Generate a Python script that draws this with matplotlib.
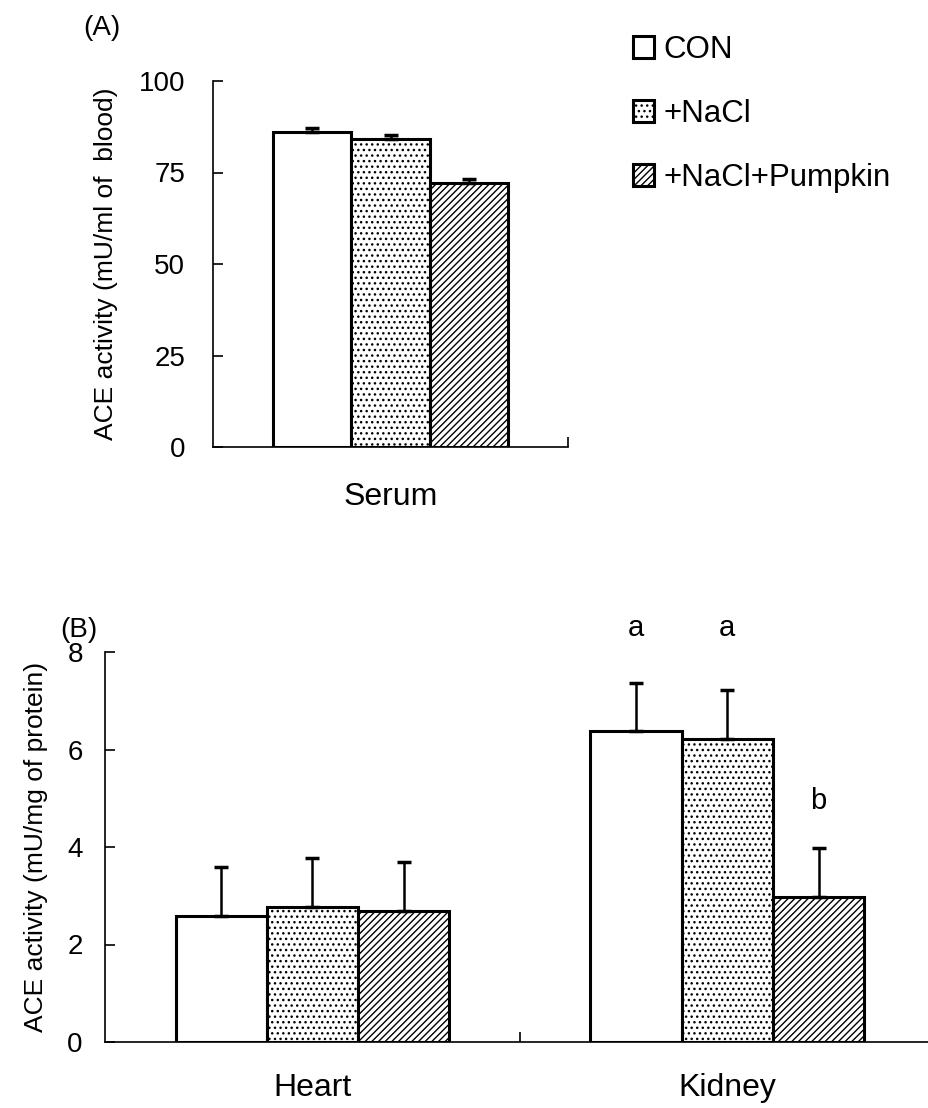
import matplotlib
matplotlib.use("Agg")
import matplotlib.pyplot as plt
import numpy as np

plt.rcParams['font.family'] = ['Liberation Sans', 'DejaVu Sans']
plt.rcParams['hatch.linewidth'] = 1.0

# data
groups = ['CON', '+NaCl', '+NaCl+Pumpkin']
serum_mean = [86.2, 84.2, 72.1]
serum_err = [0.9, 1.0, 1.0]

organs = ['Heart', 'Kidney']
organ_mean = {
    'CON': [2.58, 6.38],
    '+NaCl': [2.77, 6.22],
    '+NaCl+Pumpkin': [2.68, 2.97],
}
organ_err = {
    'CON': [1.0, 0.98],
    '+NaCl': [1.0, 1.0],
    '+NaCl+Pumpkin': [1.02, 1.0],
}
kidney_letters = ['a', 'a', 'b']
letter_y = [8.5, 8.5, 4.95]

hatches = ['', '...', '/////']
width = 0.22
fs = 20
cat_fs = 23

fig = plt.figure(figsize=(9.29, 11.08), dpi=100)


def style_axis(ax, ylim, yticks, sep_ticks, pad_y):
    for s in ('top', 'right'):
        ax.spines[s].set_visible(False)
    for s in ('left', 'bottom'):
        ax.spines[s].set_linewidth(1.2)
    ax.set_ylim(*ylim)
    ax.set_yticks(yticks)
    ax.tick_params(axis='y', direction='in', length=7, width=1.2, labelsize=fs, pad=pad_y)
    ax.set_xticks(sep_ticks, minor=True)
    ax.tick_params(axis='x', which='minor', direction='in', length=7, width=1.2)


# (A) serum
axA = fig.add_axes([213 / 929, 1 - 447 / 1108, 355 / 929, 366 / 1108])
for i, g in enumerate(groups):
    x = (i - 1) * width
    axA.bar([x], [serum_mean[i]], width, color='white', edgecolor='black',
            linewidth=2.2, hatch=hatches[i], label=g, zorder=2)
    axA.errorbar([x], [serum_mean[i]], yerr=[[0], [serum_err[i]]], fmt='none',
                 ecolor='black', elinewidth=1.8, capsize=5, capthick=2.5, zorder=3)
axA.set_xlim(-0.5, 0.5)
style_axis(axA, (0, 100), [0, 25, 50, 75, 100], [0.5], 20)
axA.set_xticks([0])
axA.set_xticklabels(['Serum'])
axA.tick_params(axis='x', which='major', length=0, labelsize=cat_fs, pad=25)
axA.set_ylabel('ACE activity (mU/ml of  blood)', fontsize=19)
axA.yaxis.set_label_coords(-0.268, 0.5)
fig.text(83 / 929, 1 - 28 / 1108, '(A)', fontsize=fs, va='center')

axA.legend(loc='upper left', bbox_to_anchor=(620 / 929, 1 - 22 / 1108),
           bbox_transform=fig.transFigure, frameon=False, fontsize=22.5,
           handlelength=0.7, handleheight=0.7, handletextpad=0.3,
           labelspacing=1.1, borderaxespad=0)

# (B) heart / kidney
axB = fig.add_axes([105 / 929, 1 - 1042 / 1108, 824 / 929, 390 / 1108])
xpos = np.arange(len(organs))
for i, g in enumerate(groups):
    x = xpos + (i - 1) * width
    axB.bar(x, organ_mean[g], width, color='white', edgecolor='black',
            linewidth=2.2, hatch=hatches[i], zorder=2)
    axB.errorbar(x, organ_mean[g], yerr=[[0] * len(organs), organ_err[g]], fmt='none',
                 ecolor='black', elinewidth=1.8, capsize=5, capthick=2.5, zorder=3)
    axB.text(x[1], letter_y[i], kidney_letters[i], ha='center', va='center', fontsize=21)
axB.set_xlim(-0.5, 1.486)
style_axis(axB, (0, 8), [0, 2, 4, 6, 8], [0.5], 16)
axB.set_xticks(xpos)
axB.set_xticklabels(organs)
axB.tick_params(axis='x', which='major', length=0, labelsize=cat_fs, pad=22)
axB.set_ylabel('ACE activity (mU/mg of protein)', fontsize=19)
axB.yaxis.set_label_coords(-0.069, 0.5)
fig.text(60 / 929, 1 - 630 / 1108, '(B)', fontsize=fs, va='center')

fig.savefig('out.png', dpi=100)
